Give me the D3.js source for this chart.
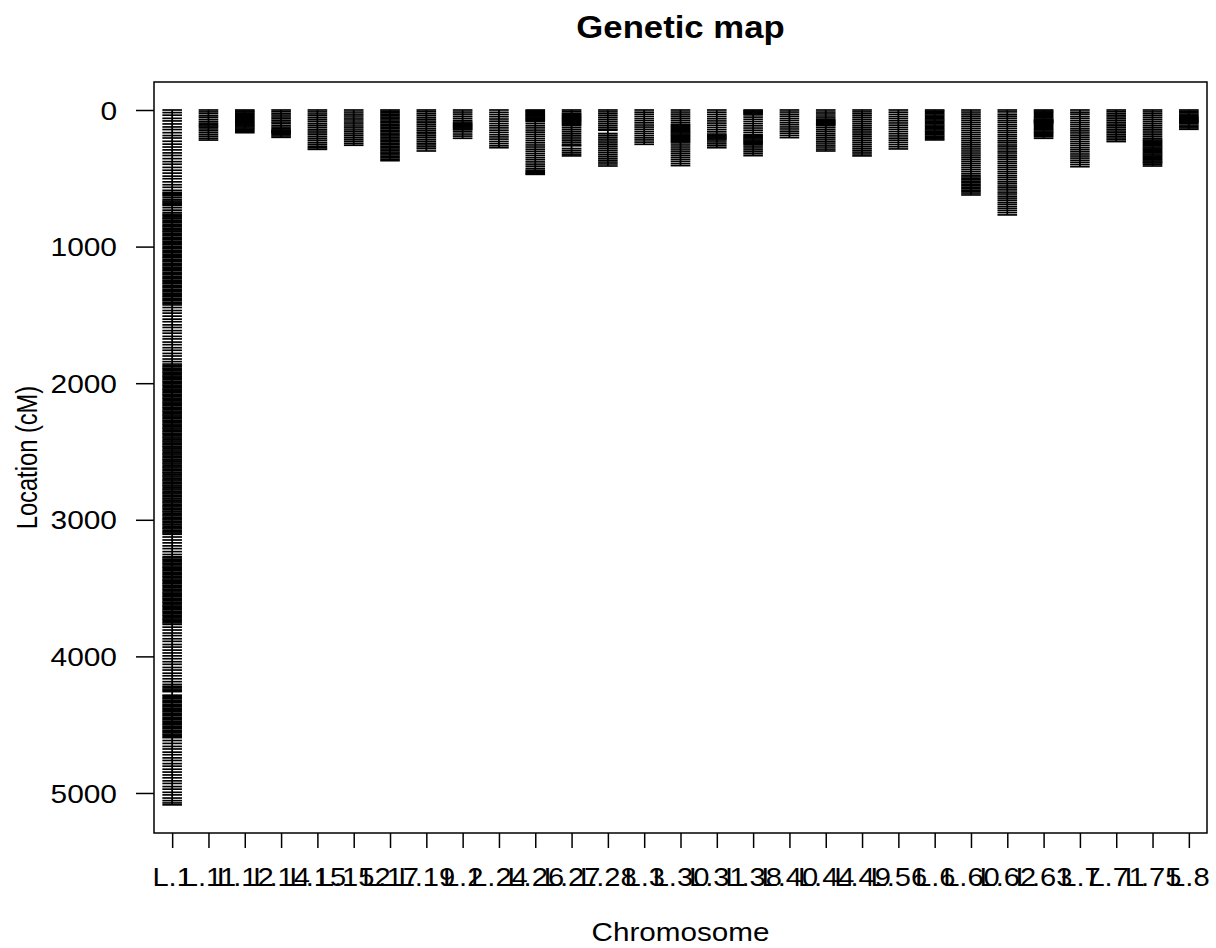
<!DOCTYPE html>
<html><head><meta charset="utf-8">
<script src="https://cdn.jsdelivr.net/npm/d3@7"></script>
<style>
body{margin:0;background:#fff}
text{font-family:"Liberation Sans",Arial,Helvetica,sans-serif;fill:#000}
</style>
</head><body>
<svg id="c" width="1216" height="948"></svg>
<script>
const chrNames = ["L.1","L.11","L.12","L.14","L.15","L.152","L.17","L.19","L.2","L.24","L.26","L.27","L.28","L.3","L.30","L.31","L.38","L.40","L.44","L.49","L.56","L.6","L.60","L.62","L.63","L.7","L.71","L.75","L.8"];
const yTicks = [0,1000,2000,3000,4000,5000];

const m_L1 = [0,19,38,61,80,102,124,143,166,187,205,229,250,271,292,314,333,356,378,397,420,441,462,484,503,526,547,566,588,603,611,620,628,641,655,666,674,683,692,699,715,733,750,762,
771,779,790,797,808,818,826,838,847,855,866,874,885,892,903,913,921,933,942,950,961,969,980,987,999,1008,1016,1028,1037,1045,1056,1064,1075,1082,1094,1103,1111,1123,1132,1140,1151,1159,1170,1177,1189,1198,1206,1218,1227,1235,1246,1254,1265,1272,1284,1293,1301,1313,1322,1330,1341,1349,1360,1367,1379,1388,1396,1408,1417,1427,
1446,1468,1487,1509,1531,1550,1573,1592,1615,1634,1657,1676,1699,1718,1740,1759,1782,1801,1823,1842,1860,
1871,1880,1891,1898,1909,1919,1927,1939,1948,1956,1967,1975,1986,1993,2004,2014,2022,2034,2043,2051,2062,2070,2081,2088,2099,2109,2117,2129,2138,2146,2157,2165,2176,2183,2194,2204,2212,2224,2233,2241,2252,2260,2271,2278,2289,2299,2307,2319,2328,2336,2347,2355,2366,2373,2384,2394,2402,2414,2423,2431,2442,2450,2461,2468,2479,2489,2497,2509,2518,2526,2537,2545,2556,2563,2574,2584,2592,2604,2613,2621,2632,2640,2651,2658,2669,2679,2687,2699,2708,2716,2727,2735,2746,2753,2764,2774,2782,2794,2803,2811,2822,2830,2841,2848,2859,2869,2877,2889,2898,2906,2917,2925,2936,2943,2954,2964,2972,2984,2993,3001,3012,3020,3031,3038,3049,3059,3067,3079,3088,3097,3106,
3126,3148,3169,3191,3211,3233,3254,
3271,3279,3290,3297,3308,3318,3326,3338,3347,3355,3366,3374,3385,3392,3403,3413,3421,3433,3442,3450,3461,3469,3480,3487,3498,3508,3516,3528,3537,3545,3556,3564,3575,3582,3593,3603,3611,3623,3632,3640,3651,3659,3670,3677,3688,3698,3706,3718,3727,3735,3746,3755,3766,
3786,3807,3829,3848,3871,3890,3913,3932,3954,3975,3996,4017,4039,4058,4081,4100,4123,4142,4164,4185,4205,
4219,4228,4239,4248,4258,
4284,4292,4303,4310,4321,4331,4339,4351,4360,4368,4379,4387,4398,4405,4416,4426,4434,4446,4455,4463,4474,4482,4493,4500,4511,4521,4529,4541,4550,4558,4569,4577,4588,4595,
4616,4637,4659,4678,4701,4720,4743,4762,4785,4804,4826,4847,4868,4889,4911,4930,4953,4972,4995,5014,5037,5056,5073,5087];
const m_L11 = [0,14,27,43,55,70,84,96,108,117,126,139,152,166,180,193,207,220];
const m_L12 = [0,8,15,24,31,40,47,55,63,70,78,86,93,101,109,116,124,132,140,149,157,166];
const m_L14 = [0,12,25,37,51,62,75,88,99,113,125,137,146,151,156,161,166,171,180,190,200];
const m_L15 = [0,14,29,42,57,71,84,99,112,126,141,154,168,181,196,210,223,238,251,265,277,288];
const m_L152 = [0,15,30,44,59,73,88,102,117,131,146,160,175,189,204,218,231,245,258];
const m_L17 = [0,10,21,31,42,52,62,73,84,94,105,116,126,137,148,158,169,180,190,201,212,222,233,244,254,265,276,286,297,308,318,329,340,350,361,371];
const m_L19 = [0,13,27,40,54,67,81,94,108,121,135,148,162,175,189,202,216,229,243,256,270,283,300];
const m_L2 = [0,15,30,46,61,76,88,97,104,111,118,125,132,139,146,160,176,191,207];
const m_L24 = [0,17,33,49,66,82,99,115,131,148,164,181,197,213,230,246,262,276];
const m_L26 = [0,6,12,18,25,31,38,44,51,58,64,71,78,85,100,116,131,147,162,178,193,209,224,240,256,271,287,302,318,333,349,364,380,396,411,427,440,449,458,465,471];
const m_L27 = [0,12,24,32,40,47,54,61,68,75,82,90,98,106,114,128,142,156,170,184,198,212,226,240,254,262,282,296,310,323,336];
const m_L28 = [0,14,28,42,56,70,84,98,112,126,140,148,172,185,199,213,227,241,255,269,283,297,311,325,339,353,367,381,395,410];
const m_L3 = [0,16,31,47,63,78,94,110,125,141,157,172,188,204,219,235,251];
const m_L30 = [0,15,30,45,60,75,90,104,112,120,128,136,144,152,160,168,176,184,192,200,208,216,224,232,241,256,271,286,301,316,331,346,361,376,392,407];
const m_L31 = [0,16,32,48,64,80,96,112,128,144,160,176,184,191,198,205,212,220,234,248,262,276];
const m_L38 = [0,7,14,21,28,36,52,68,84,100,116,132,148,164,180,188,196,204,212,220,228,236,244,252,264,278,292,306,320,334];
const m_L40 = [0,15,31,46,62,77,93,108,124,139,155,170,186,202];
const m_L44 = [0,15,29,44,58,70,77,84,91,98,105,112,126,141,155,170,184,199,213,228,242,257,271,286,300];
const m_L49 = [0,14,28,42,56,70,84,98,112,126,140,154,168,182,196,210,224,238,252,266,280,294,308,322,336];
const m_L56 = [0,16,32,48,63,79,95,111,127,142,158,174,190,206,221,237,253,269,285];
const m_L6 = [0,9,18,27,37,46,55,64,73,82,91,100,110,119,128,137,146,155,164,173,182,192,201,210,219];
const m_L60 = [0,15,30,45,60,75,90,105,120,135,150,165,180,195,210,225,240,255,270,285,300,315,330,345,360,375,390,405,420,435,450,465,478,490,501,511,522,533,544,554,565,576,587,597,608,622];
const m_L62 = [0,14,31,45,60,76,90,106,120,135,151,165,181,195,210,226,240,256,270,285,301,315,331,345,360,376,390,406,420,435,451,465,481,495,510,526,540,556,570,585,601,615,631,645,660,676,690,706,720,735,751,768];
const m_L63 = [0,8,16,24,33,41,49,57,66,72,76,80,84,88,92,96,104,112,121,129,137,145,154,162,170,178,187,195,207];
const m_L7 = [0,16,30,47,61,77,92,107,122,138,153,168,184,199,214,230,245,260,276,291,306,322,337,352,368,383,399,415];
const m_L71 = [0,13,26,38,51,64,77,90,103,116,128,141,154,167,180,192,205,218,231];
const m_L75 = [0,14,28,42,56,70,84,98,112,126,140,154,168,182,196,210,220,228,237,245,254,262,271,279,288,296,305,313,322,330,339,347,356,364,373,381,388,398,410];
const m_L8 = [0,10,20,30,40,49,55,61,67,73,79,85,91,97,110,120,131,141];

const markers = [m_L1,m_L11,m_L12,m_L14,m_L15,m_L152,m_L17,m_L19,m_L2,m_L24,m_L26,m_L27,m_L28,m_L3,m_L30,m_L31,m_L38,m_L40,m_L44,m_L49,m_L56,m_L6,m_L60,m_L62,m_L63,m_L7,m_L71,m_L75,m_L8];

const svg = d3.select("#c");
const n = chrNames.length;
const x = d3.scaleLinear().domain([0.5, n + 0.5]).range([154, 1207]);
const y = d3.scaleLinear().domain([-205, 5293]).range([82, 833]);

// markers
const g = svg.append("g");
markers.forEach((pos, i) => {
  const cx = x(i + 1);
  g.append("line")
    .attr("x1", cx).attr("x2", cx)
    .attr("y1", y(d3.min(pos))).attr("y2", y(d3.max(pos)))
    .attr("stroke", "#000").attr("stroke-width", 1.8);
  g.selectAll(null).data(pos).join("line")
    .attr("x1", x(i + 1 - 0.27)).attr("x2", x(i + 1 + 0.27))
    .attr("y1", d => y(d)).attr("y2", d => y(d))
    .attr("stroke", "#000").attr("stroke-width", 1.7);
});

// box
svg.append("rect")
  .attr("x", x.range()[0]).attr("y", y.range()[0])
  .attr("width", x.range()[1] - x.range()[0]).attr("height", y.range()[1] - y.range()[0])
  .attr("fill", "none").attr("stroke", "#000").attr("stroke-width", 1.5);

// y axis
const ya = svg.append("g").attr("transform", `translate(${x.range()[0]},0)`)
  .call(d3.axisLeft(y).tickValues(yTicks).tickSize(18).tickFormat(d3.format("d")));
ya.select(".domain").remove();
ya.selectAll(".tick line").attr("stroke", "#000").attr("stroke-width", 1.5);
ya.selectAll(".tick text").attr("x", 0).attr("dy", "0.35em")
  .attr("text-anchor", "end").attr("font-size", 26).attr("fill", "#000")
  .attr("transform", "translate(-37,0) scale(1.15,1)");

// x axis
const xa = svg.append("g").attr("transform", `translate(0,${y.range()[1]})`)
  .call(d3.axisBottom(x).tickValues(d3.range(1, n + 1)).tickSize(15).tickFormat(i => chrNames[i - 1]));
xa.select(".domain").remove();
xa.selectAll(".tick line").attr("stroke", "#000").attr("stroke-width", 1.5);
xa.selectAll(".tick text").attr("y", 0).attr("dy", 0)
  .attr("text-anchor", "middle").attr("font-size", 26).attr("fill", "#000")
  .attr("transform", "translate(0,53) scale(1.12,1)");

// titles
svg.append("text").attr("x", 0).attr("y", 0)
  .attr("transform", `translate(${(x.range()[0] + x.range()[1]) / 2},38) scale(1.12,1)`)
  .attr("text-anchor", "middle").attr("font-size", 31).attr("font-weight", "bold")
  .text("Genetic map");
svg.append("text").attr("x", 0).attr("y", 0)
  .attr("transform", `translate(${(x.range()[0] + x.range()[1]) / 2},941) scale(1.14,1)`)
  .attr("text-anchor", "middle").attr("font-size", 26)
  .text("Chromosome");
svg.append("text").attr("x", 0).attr("y", 0)
  .attr("transform", `translate(37,${(y.range()[0] + y.range()[1]) / 2}) rotate(-90) scale(0.79,1)`)
  .attr("text-anchor", "middle").attr("font-size", 30)
  .text("Location (cM)");
</script>
</body></html>
